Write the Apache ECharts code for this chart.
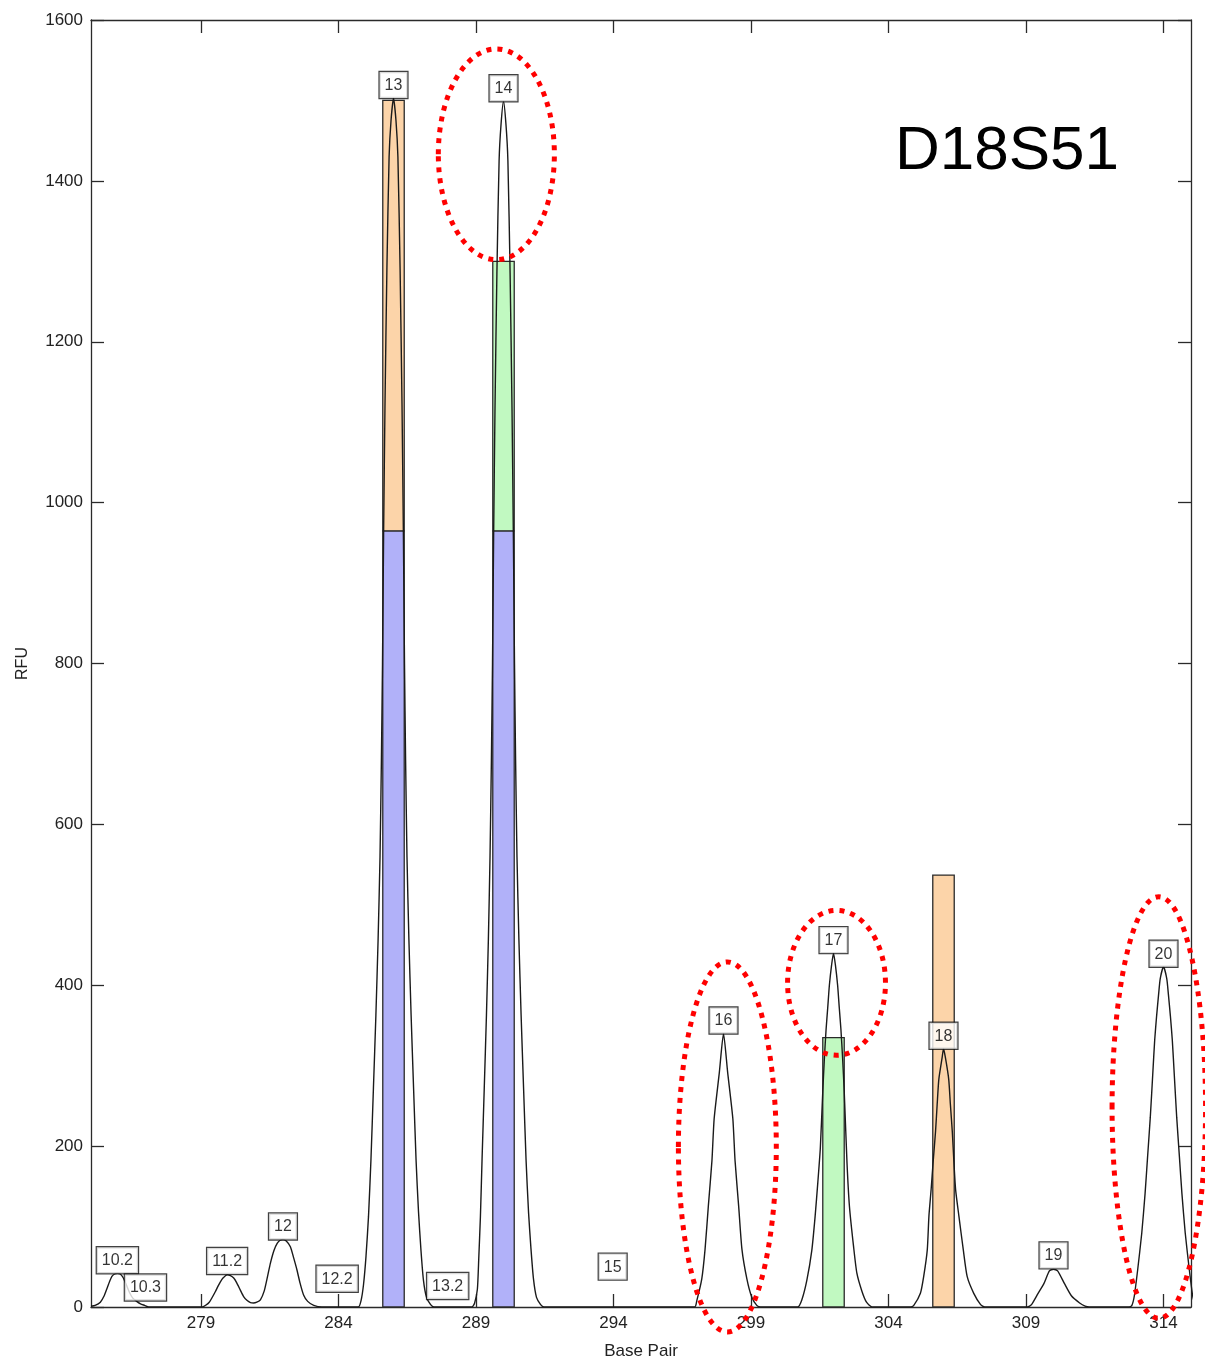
<!DOCTYPE html>
<html>
<head>
<meta charset="utf-8">
<title>D18S51</title>
<script src="https://cdn.jsdelivr.net/npm/echarts@6/dist/echarts.min.js"></script>
<style>
  html, body { margin: 0; padding: 0; background: #fff; }
  #chart { width: 1205px; height: 1362px; }
</style>
</head>
<body>
<div id="chart"></div>
<script>
// Electropherogram trace for locus D18S51: [base pair, RFU]
const traceRfu = [
  [275.00, 1], [275.15, 2], [275.34, 6], [275.48, 14], [275.58, 23], [275.68, 32], [275.76, 38],
  [275.86, 41], [275.96, 42], [276.06, 41], [276.16, 37], [276.28, 28], [276.40, 18], [276.52, 11],
  [276.66, 7], [276.80, 4], [276.95, 2], [277.10, 0],
  [279.05, 0], [279.30, 6], [279.52, 19], [279.62, 26], [279.70, 31], [279.80, 36], [279.95, 40],
  [280.07, 39], [280.19, 36], [280.30, 30], [280.43, 21], [280.55, 13], [280.68, 8], [280.80, 5.5],
  [280.91, 5], [281.03, 6], [281.16, 9], [281.30, 20], [281.42, 38], [281.52, 54], [281.65, 70],
  [281.77, 79], [281.88, 83], [281.98, 84], [282.10, 82], [282.25, 75], [282.37, 61], [282.49, 46],
  [282.60, 30], [282.73, 15], [282.88, 7], [283.10, 2], [283.40, 0],
  [284.72, 0], [284.82, 8], [284.91, 28], [285.00, 63], [285.09, 112], [285.18, 183], [285.27, 272],
  [285.36, 363], [285.44, 457], [285.51, 560], [285.56, 680], [285.60, 800], [285.64, 960],
  [285.69, 1120], [285.76, 1290], [285.84, 1430], [285.91, 1475], [286.00, 1503], [286.09, 1475],
  [286.16, 1430], [286.24, 1290], [286.31, 1120], [286.36, 960], [286.40, 800], [286.44, 680],
  [286.49, 560], [286.56, 457], [286.64, 363], [286.73, 272], [286.82, 183], [286.91, 118],
  [287.00, 70], [287.09, 33], [287.20, 12], [287.35, 3], [287.47, 0],
  [288.85, 0], [288.95, 5], [289.05, 22], [289.10, 60], [289.16, 112], [289.22, 183], [289.30, 272],
  [289.38, 363], [289.45, 457], [289.51, 560], [289.56, 680], [289.60, 800], [289.64, 955],
  [289.69, 1115], [289.76, 1285], [289.84, 1425], [289.91, 1470], [290.00, 1499], [290.09, 1470],
  [290.16, 1425], [290.24, 1285], [290.31, 1115], [290.36, 955], [290.40, 800], [290.44, 680],
  [290.49, 560], [290.56, 457], [290.64, 363], [290.73, 272], [290.82, 183], [290.91, 118],
  [291.00, 72], [291.09, 35], [291.20, 12], [291.35, 3], [291.47, 0],
  [296.95, 0], [297.03, 8], [297.21, 35], [297.33, 72], [297.45, 126], [297.58, 182], [297.66, 234],
  [297.85, 292], [298.00, 340], [298.15, 292], [298.34, 234], [298.42, 182], [298.55, 126],
  [298.67, 72], [298.85, 35], [299.03, 12], [299.21, 2], [299.35, 0],
  [300.70, 0], [300.85, 9], [301.03, 33], [301.21, 70], [301.33, 112], [301.43, 155], [301.52, 197],
  [301.61, 268], [301.67, 310], [301.73, 345], [301.79, 372], [301.85, 400], [301.93, 425],
  [302.00, 440], [302.07, 425], [302.15, 400], [302.21, 372], [302.27, 345], [302.33, 310],
  [302.39, 268], [302.49, 180], [302.58, 125], [302.73, 75], [302.85, 42], [303.03, 20],
  [303.20, 6], [303.40, 0],
  [304.80, 0], [304.92, 2], [305.16, 17], [305.28, 38], [305.41, 71], [305.47, 113], [305.55, 146],
  [305.62, 179], [305.71, 218], [305.77, 252], [305.83, 283], [305.95, 310], [306.00, 321],
  [306.07, 310], [306.19, 283], [306.25, 252], [306.32, 218], [306.38, 179], [306.44, 146],
  [306.56, 113], [306.72, 71], [306.86, 38], [307.10, 17], [307.35, 3], [307.50, 0],
  [309.05, 0], [309.20, 3], [309.44, 17], [309.65, 29], [309.85, 45], [310.00, 47], [310.15, 45],
  [310.40, 29], [310.65, 14], [310.95, 5], [311.15, 1], [311.30, 0],
  [312.75, 0], [312.85, 2], [312.94, 14], [313.06, 46], [313.21, 92], [313.33, 141], [313.42, 186],
  [313.52, 236], [313.61, 290], [313.68, 332], [313.75, 362], [313.82, 388], [313.88, 408],
  [314.00, 423], [314.12, 408], [314.18, 388], [314.25, 362], [314.32, 332], [314.39, 290],
  [314.48, 236], [314.58, 186], [314.67, 141], [314.79, 92], [314.94, 46], [315.06, 14], [315.15, 2]
];

// Allele call labels: name, base pair position, RFU at the bottom of the box
const alleleNames = ['10.2', '10.3', '11.2', '12', '12.2', '13', '13.2', '14', '15', '16', '17', '18', '19', '20'];
const alleleBp = [275.96, 276.98, 279.95, 281.98, 283.95, 286.0, 287.97, 290.0, 293.97, 298.0, 302.0, 306.0, 310.0, 314.0];
const alleleRfu = [42, 8, 41, 84, 19, 1503, 10, 1499, 34, 340, 440, 321, 48, 423];

// Contributor bars: [base pair, from RFU, to RFU]
const blueBars = [[286, 0, 965], [290, 0, 965]];
const orangeBars = [[286, 965, 1500], [306, 0, 537]];
const greenBars = [[290, 965, 1300], [302, 0, 335]];

// Highlight rings: [centre bp, centre RFU, half-width bp, half-height RFU]
const highlightRings = [
  [289.74, 1433, 2.11, 131],
  [298.14, 199, 1.78, 230],
  [302.11, 403, 1.78, 90],
  [313.83, 248, 1.70, 262]
];

const xTicks = [279, 284, 289, 294, 299, 304, 309, 314];

const FONT = "'Liberation Sans', Arial, Helvetica, sans-serif";
const AXIS_COLOR = '#2a2a2a';
const BAR_HALF = 0.39;

const chart = echarts.init(document.getElementById('chart'), null, { renderer: 'canvas' });

function barSeries(name, data, fill) {
  return {
    name: name,
    type: 'custom',
    data: data,
    z: 2,
    encode: { x: 0, y: [1, 2] },
    renderItem: function (params, api) {
      const x = api.value(0), lo = api.value(1), hi = api.value(2);
      const tl = api.coord([x - BAR_HALF, hi]);
      const br = api.coord([x + BAR_HALF, lo]);
      return {
        type: 'rect',
        shape: { x: tl[0], y: tl[1], width: br[0] - tl[0], height: br[1] - tl[1] },
        style: { fill: fill, stroke: '#2a2a2a', lineWidth: 1.3 }
      };
    }
  };
}

const axisLineStyle = { color: AXIS_COLOR, width: 1.3 };
const plainNumber = function (v) { return String(v); };

const option = {
  animation: false,
  backgroundColor: '#fff',
  textStyle: { fontFamily: FONT },
  title: {
    text: 'D18S51',
    left: 890,
    top: 116,
    textStyle: { fontFamily: FONT, fontSize: 62, fontWeight: 'normal', color: '#000' }
  },
  grid: { left: 91, right: 14, top: 20, bottom: 55, outerBoundsMode: 'none', containLabel: false },
  xAxis: [
    {
      type: 'value', min: 275, max: 315, position: 'bottom',
      axisLine: { show: true, onZero: false, lineStyle: axisLineStyle },
      axisTick: { show: true, inside: true, length: 13, customValues: xTicks, lineStyle: axisLineStyle },
      axisLabel: { customValues: xTicks, margin: 8, fontSize: 17, color: '#222', fontFamily: FONT, formatter: plainNumber },
      splitLine: { show: false },
      name: 'Base Pair', nameLocation: 'middle', nameGap: 36,
      nameTextStyle: { fontSize: 17, color: '#222', fontFamily: FONT }
    },
    {
      type: 'value', min: 275, max: 315, position: 'top',
      axisLine: { show: true, onZero: false, lineStyle: axisLineStyle },
      axisTick: { show: true, inside: true, length: 13, customValues: xTicks, lineStyle: axisLineStyle },
      axisLabel: { show: false },
      splitLine: { show: false }
    }
  ],
  yAxis: [
    {
      type: 'value', min: 0, max: 1600, interval: 200, position: 'left',
      axisLine: { show: true, onZero: false, lineStyle: axisLineStyle },
      axisTick: { show: true, inside: true, length: 13, lineStyle: axisLineStyle },
      axisLabel: { margin: 8, fontSize: 17, color: '#222', fontFamily: FONT, formatter: plainNumber },
      splitLine: { show: false },
      name: 'RFU', nameLocation: 'middle', nameGap: 60,
      nameTextStyle: { fontSize: 16, color: '#222', fontFamily: FONT }
    },
    {
      type: 'value', min: 0, max: 1600, interval: 200, position: 'right',
      axisLine: { show: true, onZero: false, lineStyle: axisLineStyle },
      axisTick: { show: true, inside: true, length: 13, lineStyle: axisLineStyle },
      axisLabel: { show: false },
      splitLine: { show: false }
    }
  ],
  series: [
    barSeries('blue', blueBars, '#b1b1f9'),
    barSeries('orange', orangeBars, '#fcd4a9'),
    barSeries('green', greenBars, '#c1f9c1'),
    {
      name: 'trace',
      type: 'line',
      data: traceRfu,
      showSymbol: false,
      symbol: 'none',
      smooth: 0.2,
      z: 3,
      lineStyle: { color: '#1a1a1a', width: 1.4 }
    },
    {
      name: 'alleles',
      type: 'scatter',
      symbolSize: 0,
      z: 4,
      data: alleleNames.map(function (n, i) { return { name: n, value: [alleleBp[i], alleleRfu[i]] }; }),
      label: {
        show: true,
        position: 'top',
        distance: 0,
        formatter: '{b}',
        fontFamily: FONT,
        fontSize: 16,
        lineHeight: 17,
        color: '#000',
        backgroundColor: '#fff',
        borderColor: '#111',
        borderWidth: 1.2,
        padding: [5, 5, 4, 5]
      }
    },
    {
      name: 'rings',
      type: 'custom',
      data: highlightRings,
      z: 5,
      clip: false,
      encode: { x: 0, y: 1 },
      renderItem: function (params, api) {
        const c = api.coord([api.value(0), api.value(1)]);
        const s = api.size([api.value(2), api.value(3)]);
        return {
          type: 'ellipse',
          shape: { cx: c[0], cy: c[1], rx: s[0], ry: s[1] },
          style: { fill: 'none', stroke: '#ff0000', lineWidth: 5, lineDash: [5, 6] }
        };
      }
    }
  ]
};

chart.setOption(option);
</script>
</body>
</html>
